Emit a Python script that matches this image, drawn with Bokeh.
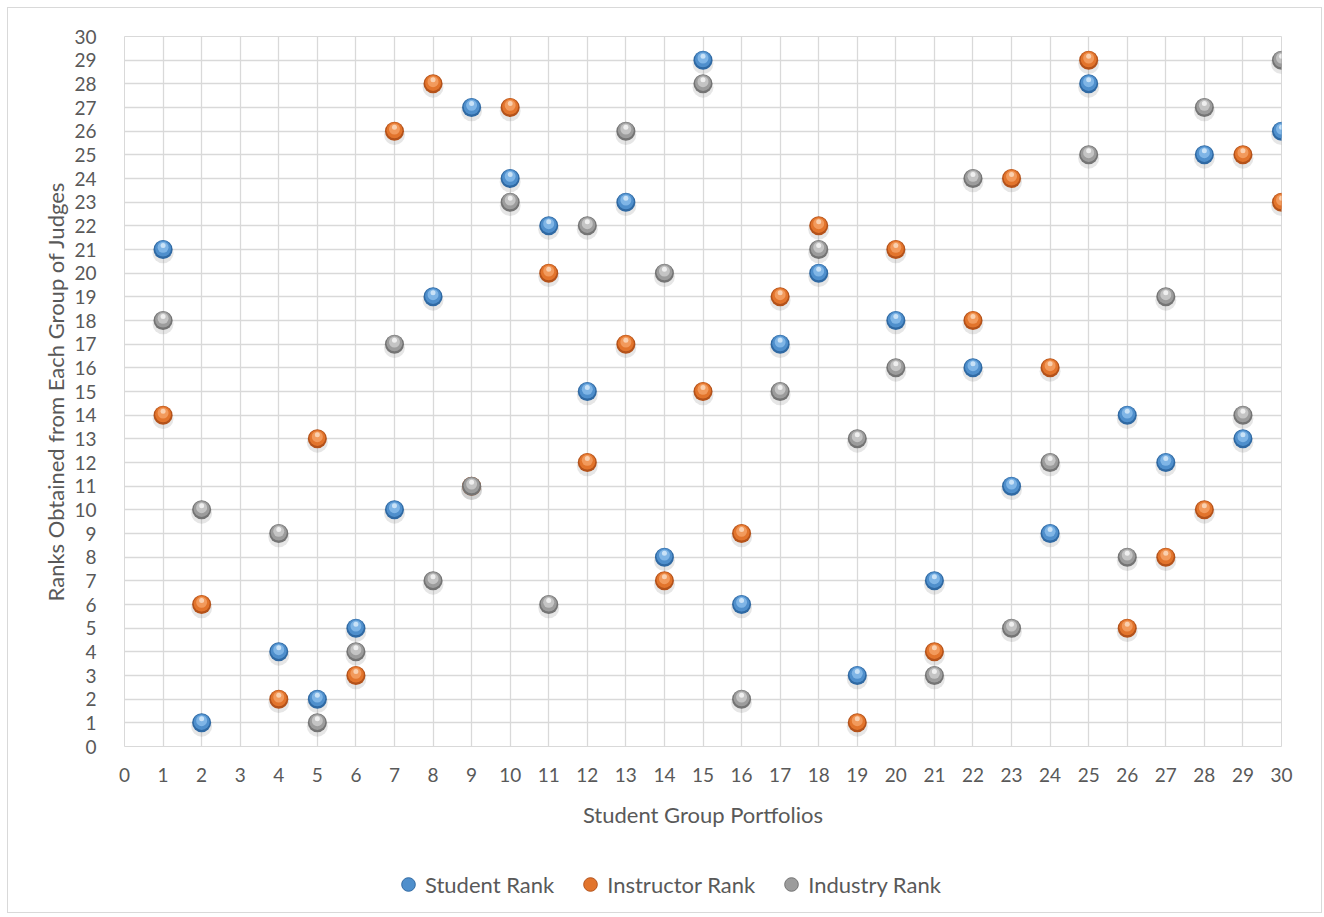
from bokeh.plotting import figure
from bokeh.layouts import column
from bokeh.models import FixedTicker, Legend, LegendItem, ColumnDataSource
from bokeh.transform import dodge
from bokeh.embed import file_html
from bokeh.resources import INLINE

portfolios = [1, 2, 4, 5, 6, 7, 8, 9, 10, 11, 12, 13, 14, 15, 16, 17, 18, 19, 20,
              21, 22, 23, 24, 25, 26, 27, 28, 29, 30]
student_rank = [21, 1, 4, 2, 5, 10, 19, 27, 24, 22, 15, 23, 8, 29, 6, 17, 20, 3, 18,
                7, 16, 11, 9, 28, 14, 12, 25, 13, 26]
instructor_rank = [14, 6, 2, 13, 3, 26, 28, 11, 27, 20, 12, 17, 7, 15, 9, 19, 22, 1, 21,
                   4, 18, 24, 16, 29, 5, 8, 10, 25, 23]
industry_rank = [18, 10, 9, 1, 4, 17, 7, 11, 23, 6, 22, 26, 20, 28, 2, 15, 21, 13, 16,
                 3, 24, 5, 12, 25, 8, 19, 27, 14, 29]
series_names = ["Student Rank", "Instructor Rank", "Industry Rank"]
ticks = list(range(0, 31))

FONT = "Lato"
TXT = "#595959"

p = figure(width=1313, height=848, x_range=(0, 30), y_range=(0, 30),
           output_backend="svg", toolbar_location=None,
           min_border_left=116, min_border_right=40, min_border_top=28,
           min_border_bottom=110)
p.outline_line_color = "#d9d9d9"
p.background_fill_color = "white"
p.border_fill_color = "white"

for ax in (p.xaxis[0], p.yaxis[0]):
    ax.ticker = FixedTicker(ticks=ticks)
    ax.axis_line_color = None
    ax.major_tick_line_color = None
    ax.minor_tick_line_color = None
    ax.major_label_text_font = FONT
    ax.major_label_text_font_size = "19px"
    ax.major_label_text_color = TXT
    ax.axis_label_text_font = FONT
    ax.axis_label_text_font_size = "22px"
    ax.axis_label_text_color = TXT
    ax.axis_label_text_font_style = "normal"

p.xaxis.axis_label = "Student Group Portfolios"
p.yaxis.axis_label = "Ranks Obtained from Each Group of Judges"
p.xaxis.major_label_standoff = 15
p.yaxis.major_label_standoff = 22
p.xaxis.axis_label_standoff = 16
p.yaxis.axis_label_standoff = 2

for g in (p.xgrid[0], p.ygrid[0]):
    g.ticker = FixedTicker(ticks=ticks)
    g.grid_line_color = "#d9d9d9"
    g.grid_line_width = 1.3

# legend strip below the chart (its view range deliberately shows no data)
p2 = figure(width=1313, height=56, x_range=(-3, -2), y_range=(-3, -2),
            x_axis_type=None, y_axis_type=None, output_backend="svg",
            toolbar_location=None, min_border_left=116, min_border_right=40,
            min_border_top=0, min_border_bottom=0)
p2.outline_line_color = None
p2.background_fill_color = "white"
p2.border_fill_color = "white"

# sphere look: shadow, dark rim, body, lighter core, highlight
palettes = [
    ("#2f69a3", "#4f8fcc", "#7fb5e6", "#d2e7f8"),
    ("#b4521a", "#e2742c", "#f29a5c", "#fbd6b8"),
    ("#747474", "#9c9c9c", "#c4c4c4", "#f4f4f4"),
]
all_series = [student_rank, instructor_rank, industry_rank]
items = []
for name, ranks, (dark, mid, lite, hl) in zip(series_names, all_series, palettes):
    src = ColumnDataSource(dict(x=portfolios, y=ranks))
    p.scatter(x="x", y=dodge("y", -0.14, range=p.y_range), source=src, size=21,
              fill_color="#808080", fill_alpha=0.2, line_color=None)
    p.scatter(x="x", y="y", source=src, size=19, fill_color=dark, line_color=None)
    p.scatter(x="x", y=dodge("y", 0.04, range=p.y_range), source=src, size=16,
              fill_color=mid, line_color=None)
    p.scatter(x="x", y=dodge("y", 0.09, range=p.y_range), source=src, size=11,
              fill_color=lite, line_color=None)
    p.scatter(x="x", y=dodge("y", 0.17, range=p.y_range), source=src, size=5,
              fill_color=hl, fill_alpha=0.9, line_color=None)
    lr = p2.scatter(x="x", y="y", source=src, size=16, fill_color=mid,
                    line_color=dark, line_width=1)
    items.append(LegendItem(label=name, renderers=[lr]))

legend = Legend(items=items, orientation="horizontal", location=(267, 11),
                label_text_font=FONT, label_text_font_size="22px",
                label_text_color=TXT, border_line_color=None,
                background_fill_alpha=0, glyph_width=34, glyph_height=34,
                label_standoff=-6, spacing=19, padding=0, margin=0)
p2.add_layout(legend, "center")

layout = column(p, p2, spacing=0,
                styles={"border": "1px solid #d9d9d9", "margin-left": "7px",
                        "margin-top": "7px"})

open("out.html", "w").write(file_html(layout, INLINE))
